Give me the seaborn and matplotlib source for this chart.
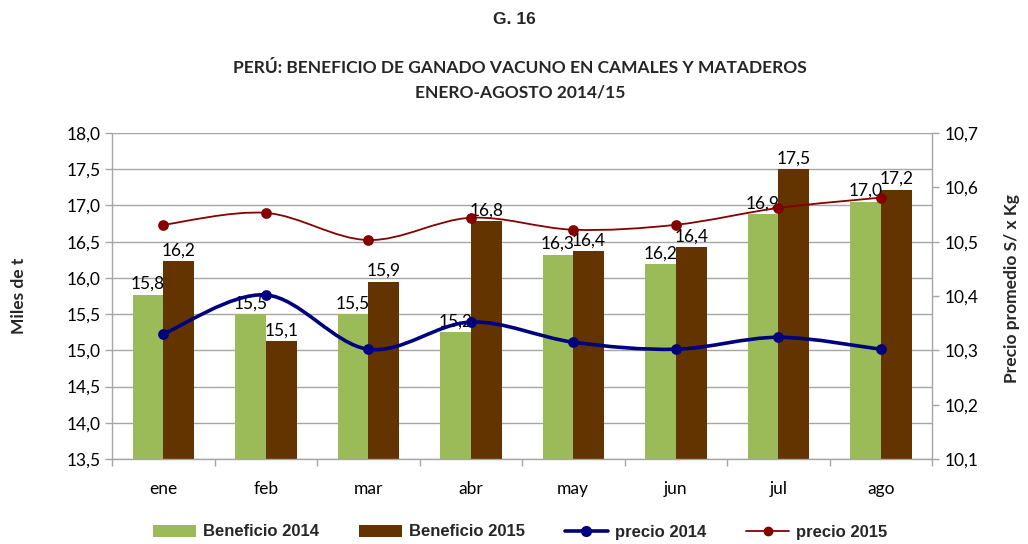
import numpy as np
import pandas as pd
import matplotlib
matplotlib.use("Agg")
import matplotlib.pyplot as plt
from matplotlib.path import Path
from matplotlib.patches import PathPatch, Patch
from matplotlib.lines import Line2D
import seaborn as sns

meses = ["ene", "feb", "mar", "abr", "may", "jun", "jul", "ago"]
beneficio_2014 = [15.77, 15.50, 15.50, 15.25, 16.32, 16.19, 16.88, 17.05]
beneficio_2015 = [16.23, 15.13, 15.95, 16.78, 16.37, 16.42, 17.50, 17.22]
precio_2014 = [10.330, 10.402, 10.302, 10.352, 10.315, 10.302, 10.324, 10.302]
precio_2015 = [10.531, 10.553, 10.503, 10.544, 10.522, 10.531, 10.562, 10.581]
etiq_2014 = ["15,8", "15,5", "15,5", "15,2", "16,3", "16,2", "16,9", "17,0"]
etiq_2015 = ["16,2", "15,1", "15,9", "16,8", "16,4", "16,4", "17,5", "17,2"]

VERDE = "#9BBB59"
MARRON = "#633300"
AZUL = "#00007F"
ROJO = "#850000"

sns.set_theme(style="white")
plt.rcParams["font.family"] = ["Lato", "DejaVu Sans"]

df = pd.DataFrame({
    "mes": meses * 2,
    "valor": beneficio_2014 + beneficio_2015,
    "serie": ["Beneficio 2014"] * 8 + ["Beneficio 2015"] * 8,
})

fig = plt.figure(figsize=(10.28, 5.44), dpi=100)
ax = fig.add_axes([112 / 1028, 1 - 459 / 544, (932 - 112) / 1028, (459 - 133) / 544])

sns.barplot(data=df, x="mes", y="valor", hue="serie", palette=[VERDE, MARRON],
            width=0.6, saturation=1, ax=ax, legend=False, dodge=True, linewidth=0)

ax.set_ylim(13.5, 18.0)
ax.set_xlim(-0.5, 7.5)
ax.set_yticks(np.arange(13.5, 18.01, 0.5))
ax.set_yticklabels([f"{v:.1f}".replace(".", ",") for v in np.arange(13.5, 18.01, 0.5)])
ax.yaxis.grid(True, color="#A6A6A6", linewidth=1.0)
ax.set_axisbelow(True)
ax.set_xlabel("")
ax.set_ylabel("")

for cont, labs in zip(ax.containers, [etiq_2014, etiq_2015]):
    ax.bar_label(cont, labels=labs, padding=2, fontsize=12.5, color="#000000")

for side in ["top", "right"]:
    ax.spines[side].set_visible(False)
for side in ["left", "bottom"]:
    ax.spines[side].set_color("#A6A6A6")
    ax.spines[side].set_linewidth(1.0)

ax.tick_params(axis="y", which="major", left=True, length=5, width=1, color="#A6A6A6",
               labelsize=12.5, pad=3, labelcolor="#000000")
ax.set_xticks(np.arange(8))
ax.set_xticklabels(meses)
ax.tick_params(axis="x", which="major", length=0, labelsize=12.5, pad=16, labelcolor="#000000")
ax.set_xticks(np.arange(-0.5, 8, 1.0), minor=True)
ax.tick_params(axis="x", which="minor", bottom=True, length=5, width=1, color="#A6A6A6")

ax2 = ax.twinx()
ax2.set_ylim(10.1, 10.7)
ax2.set_yticks(np.arange(10.1, 10.701, 0.1))
ax2.set_yticklabels([f"{v:.1f}".replace(".", ",") for v in np.arange(10.1, 10.701, 0.1)])
for side in ["top", "left", "bottom"]:
    ax2.spines[side].set_visible(False)
ax2.spines["right"].set_color("#A6A6A6")
ax2.spines["right"].set_linewidth(1.0)
ax2.tick_params(axis="y", right=True, length=5, width=1, color="#A6A6A6",
                labelsize=12.5, pad=4, labelcolor="#000000")
ax2.grid(False)


def smooth_path(xs, ys):
    pts = np.column_stack([xs, ys]).astype(float)
    n = len(pts)
    verts = [pts[0]]
    codes = [Path.MOVETO]
    for i in range(n - 1):
        p0 = pts[i - 1] if i > 0 else pts[i]
        p1 = pts[i]
        p2 = pts[i + 1]
        p3 = pts[i + 2] if i + 2 < n else pts[i + 1]
        c1 = p1 + (p2 - p0) / 6.0
        c2 = p2 - (p3 - p1) / 6.0
        verts += [c1, c2, p2]
        codes += [Path.CURVE4] * 3
    return Path(verts, codes)


xpos = np.arange(len(meses))
ax2.add_patch(PathPatch(smooth_path(xpos, precio_2015), fill=False, edgecolor=ROJO, linewidth=1.3, zorder=3))
ax2.add_patch(PathPatch(smooth_path(xpos, precio_2014), fill=False, edgecolor=AZUL, linewidth=2.6, zorder=3))
sns.scatterplot(x=xpos, y=precio_2015, ax=ax2, color=ROJO, s=60, edgecolor=ROJO, linewidth=0, zorder=4, legend=False)
sns.scatterplot(x=xpos, y=precio_2014, ax=ax2, color=AZUL, s=60, edgecolor=AZUL, linewidth=0, zorder=4, legend=False)
ax2.set_ylabel("")

# Titles
fig.text(514 / 1028, 1 - 20 / 544, "G. 16", ha="center", va="center", fontsize=12.5,
         fontweight="bold", family=["Liberation Sans", "DejaVu Sans"])
fig.text(520 / 1028, 1 - 68 / 544, "PERÚ: BENEFICIO DE GANADO VACUNO EN CAMALES Y MATADEROS",
         ha="center", va="center", fontsize=12.5, fontweight="bold")
fig.text(520 / 1028, 1 - 93 / 544, "ENERO-AGOSTO 2014/15", ha="center", va="center",
         fontsize=12.5, fontweight="bold")
fig.text(19 / 1028, 1 - 296 / 544, "Miles de t", ha="center", va="center", rotation=90,
         fontsize=12.5, fontweight="bold")
fig.text(1012 / 1028, 1 - 289 / 544, "Precio promedio S/ x Kg", ha="center", va="center",
         rotation=90, fontsize=12.5, fontweight="bold")

handles = [
    Patch(facecolor=VERDE, edgecolor="none"),
    Patch(facecolor=MARRON, edgecolor="none"),
    Line2D([0], [0], color=AZUL, linewidth=2.6, marker="o", markersize=7),
    Line2D([0], [0], color=ROJO, linewidth=1.3, marker="o", markersize=6),
]
labels = ["Beneficio 2014", "Beneficio 2015", "precio 2014", "precio 2015"]
fig.legend(handles, labels, loc="center", bbox_to_anchor=(520 / 1028, 1 - 532 / 544), ncol=4,
           frameon=False, handlelength=2.6, columnspacing=2.4, handletextpad=0.4,
           prop={"family": ["Liberation Sans", "DejaVu Sans"],
                 "weight": "bold", "size": 12})

fig.savefig("out.png", dpi=100)
